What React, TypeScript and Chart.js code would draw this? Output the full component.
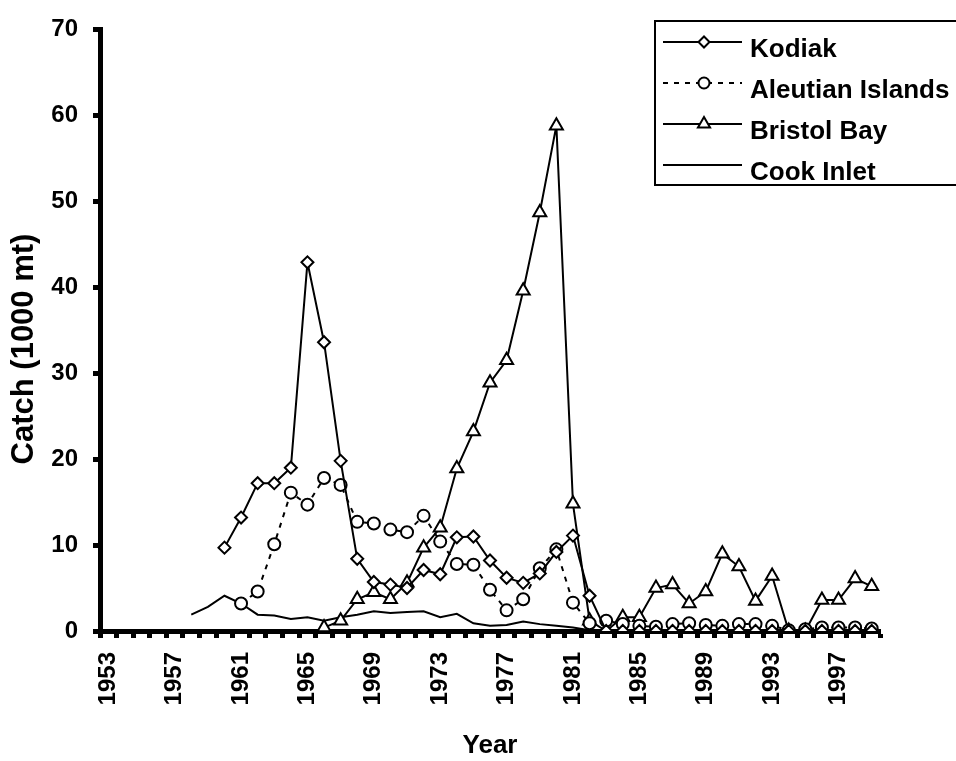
import React, { useEffect, useRef } from "react";
import { Chart, registerables } from "chart.js";

Chart.register(...registerables);

// Harvest seasons on the category axis
const years = [
  "1953", "1954", "1955", "1956", "1957", "1958", "1959", "1960", "1961", "1962",
  "1963", "1964", "1965", "1966", "1967", "1968", "1969", "1970", "1971", "1972",
  "1973", "1974", "1975", "1976", "1977", "1978", "1979", "1980", "1981", "1982",
  "1983", "1984", "1985", "1986", "1987", "1988", "1989", "1990", "1991", "1992",
  "1993", "1994", "1995", "1996", "1997", "1998", "1999",
];

// Only every fourth season gets a printed label
const labeledYears = ["1953", "1957", "1961", "1965", "1969", "1973", "1977", "1981", "1985", "1989", "1993", "1997"];

// Catch in thousands of metric tons, one entry per season (null = no fishery)
const kodiak = [
  null, null, null, null, null, null, null,
  9.7, 13.2, 17.2, 17.2, 19.0, 42.9, 33.6, 19.8, 8.4, 5.7,
  5.4, 5.0, 7.1, 6.6, 10.9, 11.0, 8.2, 6.2, 5.6, 6.7,
  9.2, 11.1, 4.1,
  0, 0, 0, 0, 0, 0, 0, 0, 0, 0, 0, 0, 0, 0, 0, 0, 0,
];

const aleutian = [
  null, null, null, null, null, null, null, null,
  3.2, 4.6, 10.1, 16.1, 14.7, 17.8, 17.0, 12.7, 12.5,
  11.8, 11.5, 13.4, 10.4, 7.8, 7.7, 4.8, 2.4, 3.7, 7.3,
  9.5, 3.3, 0.9, 1.2, 0.8, 0.6, 0.5, 0.8, 0.9, 0.7,
  0.6, 0.8, 0.8, 0.6, 0.1, 0.2, 0.4, 0.4, 0.4, 0.3,
];

const bristol = [
  null, null, null, null, null, null, null, null, null, null, null, null, null,
  0.4, 1.2, 3.7, 4.5, 3.7, 5.6, 9.7, 12.0, 18.9, 23.2,
  28.9, 31.5, 39.6, 48.7, 58.8, 14.8, 1.2, 0, 1.6, 1.6,
  5.0, 5.4, 3.2, 4.6, 9.0, 7.5, 3.5, 6.4, 0, 0,
  3.6, 3.6, 6.1, 5.2,
];

const cookInlet = [
  null, null, null, null, null,
  1.9, 2.8, 4.1, 3.2, 1.9, 1.8, 1.4, 1.6, 1.2, 1.6,
  1.9, 2.3, 2.1, 2.2, 2.3, 1.6, 2.0, 0.9, 0.6, 0.7,
  1.1, 0.8, 0.6, 0.4, 0.1,
  0, 0, 0, 0, 0, 0, 0, 0, 0, 0, 0, 0, 0, 0, 0, 0, 0,
];

const yTicks = [0, 10, 20, 30, 40, 50, 60, 70];

const yTitle = "Catch (1000 mt)";

const FONT = "'Liberation Sans', Arial, Helvetica, sans-serif";

type MarkerKind = "rectRot" | "circle" | "triangle" | "none";

function drawMarker(ctx: CanvasRenderingContext2D, kind: MarkerKind, x: number, y: number, r: number) {
  if (kind === "none") return;
  ctx.beginPath();
  if (kind === "rectRot") {
    ctx.moveTo(x - r, y);
    ctx.lineTo(x, y - r);
    ctx.lineTo(x + r, y);
    ctx.lineTo(x, y + r);
    ctx.closePath();
  } else if (kind === "circle") {
    ctx.arc(x, y, r, 0, Math.PI * 2);
  } else {
    ctx.moveTo(x, y - r);
    ctx.lineTo(x + r * 0.866, y + r * 0.5);
    ctx.lineTo(x - r * 0.866, y + r * 0.5);
    ctx.closePath();
  }
  ctx.fillStyle = "#fff";
  ctx.fill();
  ctx.setLineDash([]);
  ctx.lineWidth = 2;
  ctx.strokeStyle = "#000";
  ctx.stroke();
}

// Vertical axis title, set a little below the middle of the plot area
const sideTitle = {
  id: "sideTitle",
  afterDraw(chart: Chart) {
    const ctx = chart.ctx;
    ctx.save();
    ctx.translate(24, 349);
    ctx.rotate(-Math.PI / 2);
    ctx.fillStyle = "#000";
    ctx.font = `bold 31px ${FONT}`;
    ctx.textAlign = "center";
    ctx.textBaseline = "middle";
    ctx.fillText(yTitle, 0, 0);
    ctx.restore();
  },
};

// Boxed legend in the upper right corner, partly running off the canvas edge
const boxLegend = {
  id: "boxLegend",
  afterDraw(chart: Chart) {
    const ctx = chart.ctx;
    const markers: MarkerKind[] = ["rectRot", "circle", "triangle", "none"];
    const markerSize = [5.5, 5.5, 7, 0];
    const dashes = [[], [5, 6], [], []];
    ctx.save();
    ctx.lineWidth = 2;
    ctx.strokeStyle = "#000";
    ctx.setLineDash([]);
    ctx.strokeRect(655, 21, 330, 164);
    chart.data.datasets.forEach((ds, i) => {
      const lineY = 42 + i * 41;
      ctx.beginPath();
      ctx.setLineDash(dashes[i]);
      ctx.lineWidth = 2;
      ctx.moveTo(663, lineY);
      ctx.lineTo(742, lineY);
      ctx.stroke();
      drawMarker(ctx, markers[i], 704, lineY, markerSize[i]);
      ctx.fillStyle = "#000";
      ctx.font = `bold 26px ${FONT}`;
      ctx.textAlign = "left";
      ctx.textBaseline = "alphabetic";
      ctx.fillText(String(ds.label), 750, 57 + i * 41);
    });
    ctx.restore();
  },
};

export default function App() {
  const canvasRef = useRef<HTMLCanvasElement | null>(null);

  useEffect(() => {
    if (!canvasRef.current) return;
    const lineBase = {
      borderColor: "#000",
      borderWidth: 2,
      pointBackgroundColor: "#fff",
      pointBorderColor: "#000",
      pointBorderWidth: 2,
      tension: 0,
      spanGaps: false,
    };
    const chart = new Chart(canvasRef.current, {
      type: "line",
      data: {
        labels: years,
        datasets: [
          { ...lineBase, label: "Kodiak", data: kodiak, pointStyle: "rectRot", pointRadius: 6 },
          { ...lineBase, label: "Aleutian Islands", data: aleutian, pointStyle: "circle", pointRadius: 6, borderDash: [5, 6] },
          { ...lineBase, label: "Bristol Bay", data: bristol, pointStyle: "triangle", pointRadius: 7.5 },
          { ...lineBase, label: "Cook Inlet", data: cookInlet, pointRadius: 0 },
        ],
      },
      options: {
        animation: false,
        responsive: false,
        maintainAspectRatio: false,
        layout: { padding: { top: 12, right: 76, bottom: 0, left: 0 }, autoPadding: false },
        plugins: {
          legend: { display: false },
          tooltip: { enabled: false },
        },
        scales: {
          x: {
            type: "category",
            offset: true,
            grid: {
              offset: true,
              drawOnChartArea: false,
              drawTicks: true,
              tickLength: 7,
              tickWidth: 5,
              tickColor: "#000",
            },
            border: { display: true, color: "#000", width: 5 },
            ticks: {
              autoSkip: false,
              maxRotation: 90,
              minRotation: 90,
              padding: 14,
              color: "#000",
              font: { family: FONT, size: 24, weight: "bold" },
              callback: (_v: any, i: number) => (labeledYears.includes(years[i]) ? years[i] : ""),
            },
            title: {
              display: true,
              text: "Year",
              color: "#000",
              font: { family: FONT, size: 26, weight: "bold" },
              padding: { top: 0, bottom: 0 },
            },
            afterFit: (scale: any) => {
              scale.height = 130;
            },
          },
          y: {
            min: 0,
            max: 70,
            afterBuildTicks: (scale: any) => {
              scale.ticks = yTicks.map((v) => ({ value: v }));
            },
            grid: {
              drawOnChartArea: false,
              drawTicks: true,
              tickLength: 7,
              tickWidth: 5,
              tickColor: "#000",
            },
            border: { display: true, color: "#000", width: 5 },
            ticks: {
              padding: 15,
              color: "#000",
              font: { family: FONT, size: 24, weight: "bold" },
            },
            title: { display: false },
            afterFit: (scale: any) => {
              scale.width = 100;
            },
          },
        },
      },
      plugins: [boxLegend, sideTitle],
    });
    return () => chart.destroy();
  }, []);

  return (
    <div style={{ position: "absolute", left: 0, top: 0, width: 956, height: 761, background: "#fff" }}>
      <canvas ref={canvasRef} width={956} height={761} style={{ display: "block", width: 956, height: 761 }} />
    </div>
  );
}
